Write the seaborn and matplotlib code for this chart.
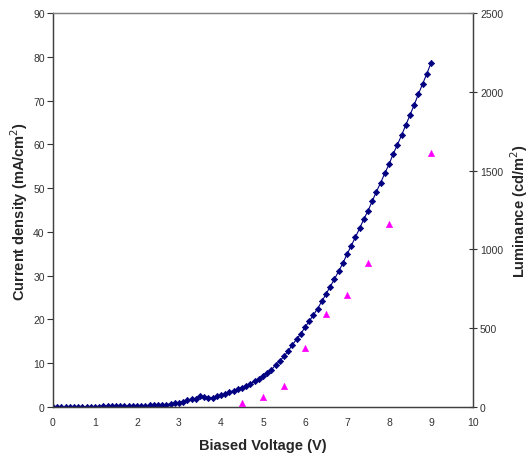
import numpy as np
import pandas as pd
import matplotlib
matplotlib.use("Agg")
import matplotlib.pyplot as plt
import seaborn as sns

# Current density data (0 to 9 V, 0.1 V steps)
voltage = [round(0.1 * i, 1) for i in range(91)]
current = [
    0, 0, 0, 0, 0.02,
    0.05, 0.05, 0.05, 0.1, 0.1,
    0.1, 0.1, 0.12, 0.12, 0.15,
    0.15, 0.15, 0.2, 0.2, 0.25,
    0.25, 0.3, 0.3, 0.35, 0.4,
    0.45, 0.5, 0.55, 0.7, 0.9,
    1.0, 1.2, 1.5, 1.8, 1.8,
    2.4, 2.3, 2.1, 2.1, 2.4,
    2.7, 3.0, 3.4, 3.7, 4.0,
    4.4, 4.9, 5.3, 5.9, 6.4,
    7.0, 7.8, 8.5, 9.6, 10.5,
    11.6, 12.8, 14.2, 15.5, 16.7,
    18.2, 19.6, 21.0, 22.5, 24.1,
    25.8, 27.5, 29.2, 31.0, 32.8,
    34.9, 36.8, 38.8, 40.8, 42.9,
    44.8, 47.0, 49.2, 51.2, 53.4,
    55.4, 57.8, 59.9, 62.1, 64.4,
    66.7, 69.0, 71.5, 73.8, 76.1,
    78.6,
]

# Luminance data
lum_voltage = [4.5, 5.0, 5.5, 6.0, 6.5, 7.0, 7.5, 8.0, 9.0]
luminance = [25, 65, 134, 375, 592, 708, 914, 1164, 1609]

x_ticks = list(range(0, 11))
y_ticks = list(range(0, 91, 10))
y2_ticks = list(range(0, 2501, 500))

sns.set_style("white")
plt.rcParams['font.family'] = ['Liberation Sans', 'DejaVu Sans']

fig = plt.figure(figsize=(5.29, 4.56), dpi=100)
ax = fig.add_axes([53/529, 48/456, (473-53)/529, (408-14)/456])

df_c = pd.DataFrame({"V": voltage, "J": current})
df_l = pd.DataFrame({"V": lum_voltage, "L": luminance})

sns.lineplot(data=df_c, x="V", y="J", ax=ax, color="#000080", lw=0.8,
             marker="D", markersize=3.2, markeredgecolor="#000080",
             markerfacecolor="#000080", markeredgewidth=0.5)

ax.set_xlim(0, 10)
ax.set_ylim(0, 90)
ax.set_xticks(x_ticks)
ax.set_yticks(y_ticks)
ax.set_xlabel("Biased Voltage (V)", fontsize=10.5, fontweight="bold", labelpad=8)
ax.set_ylabel("Current density (mA/cm$^2$)", fontsize=10.5, fontweight="bold", labelpad=2)

ax2 = ax.twinx()
sns.scatterplot(data=df_l, x="V", y="L", ax=ax2, color="#FF00FF", marker="^",
                s=22, edgecolor="#FF00FF", linewidth=0.3, zorder=3)
ax2.set_ylim(0, 2500)
ax2.set_yticks(y2_ticks)
ax2.set_ylabel("Luminance (cd/m$^2$)", fontsize=10.5, fontweight="bold", labelpad=4)
ax2.set_xlim(0, 10)

for a in (ax, ax2):
    a.tick_params(labelsize=7.5, colors="#333333", length=4, width=0.8)
    for s in a.spines.values():
        s.set_color("#404040")
        s.set_linewidth(0.9)
    a.spines["top"].set_color("#808080")
ax.tick_params(axis="y", direction="out", length=4, pad=2)
ax2.tick_params(axis="y", direction="inout", length=6, pad=2)
ax.tick_params(axis="x", direction="out", length=4, pad=3)

fig.savefig("out.png", dpi=100)
